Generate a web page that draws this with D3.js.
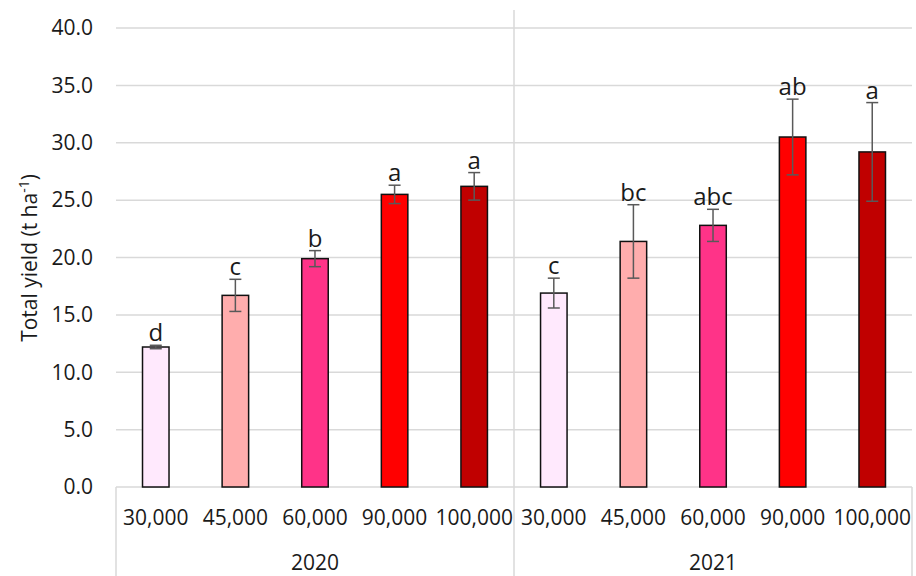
<!DOCTYPE html>
<html>
<head>
<meta charset="utf-8">
<title>Total yield</title>
<script src="https://cdn.jsdelivr.net/npm/d3@7"></script>
<style>
  body { margin: 0; background: #fff; }
  text { font-family: "Open Sans", "Noto Sans", sans-serif; fill: #1a1a1a; }
</style>
</head>
<body>
<svg id="chart" width="916" height="576"></svg>
<script>
// data
var years = ["2020", "2021"];
var densities = ["30,000", "45,000", "60,000", "90,000", "100,000"];
var yield2020 = [12.2, 16.7, 19.9, 25.5, 26.2];
var yield2021 = [16.9, 21.4, 22.8, 30.5, 29.2];
var err2020 = [0.15, 1.4, 0.7, 0.8, 1.2];
var err2021 = [1.3, 3.2, 1.4, 3.3, 4.3];
var letters2020 = ["d", "c", "b", "a", "a"];
var letters2021 = ["c", "bc", "abc", "ab", "a"];
var yTicks = [0, 5, 10, 15, 20, 25, 30, 35, 40];
var barColors = ["#ffe9fd", "#ffadad", "#ff3388", "#ff0000", "#c00000"];

var rows = [];
years.forEach(function(yr, j){
  var vals = j === 0 ? yield2020 : yield2021;
  var errs = j === 0 ? err2020 : err2021;
  var lets = j === 0 ? letters2020 : letters2021;
  densities.forEach(function(d, i){
    rows.push({key: yr + "_" + d, year: yr, dens: d, i: i, v: vals[i], e: errs[i], lab: lets[i]});
  });
});

var svg = d3.select("#chart");
var pLeft = 116, pRight = 912, pTop = 28, pBottom = 487;

var x = d3.scaleBand().domain(rows.map(function(d){ return d.key; }))
  .range([pLeft, pRight]).paddingInner(0.667).paddingOuter(0.333);
var y = d3.scaleLinear().domain([0, 40]).range([pBottom, pTop]);

// gridlines
svg.append("g").selectAll("line").data(yTicks).enter().append("line")
  .attr("x1", pLeft).attr("x2", pRight)
  .attr("y1", function(d){ return y(d); }).attr("y2", function(d){ return y(d); })
  .attr("stroke", "#d9d9d9").attr("stroke-width", 1.5);

// y tick labels
svg.append("g").selectAll("text").data(yTicks).enter().append("text")
  .attr("x", 93).attr("y", function(d){ return y(d); })
  .attr("dy", "0.35em").attr("text-anchor", "end")
  .style("font-size", "21px")
  .text(function(d){ return d3.format(".1f")(d); });

// y title
svg.append("text")
  .attr("transform", "translate(37,258) rotate(-90)")
  .attr("text-anchor", "middle")
  .style("font-size", "21px")
  .html('Total yield (t ha<tspan dy="-8" style="font-size:14px">-1</tspan><tspan dy="8">)</tspan>');

// category axis frame
var groupEdges = [pLeft, (pLeft + pRight) / 2, pRight];
svg.append("g").selectAll("line").data(groupEdges).enter().append("line")
  .attr("x1", function(d){ return d; }).attr("x2", function(d){ return d; })
  .attr("y1", function(d, i){ return i === 1 ? 10 : pBottom; }).attr("y2", 576)
  .attr("stroke", "#d9d9d9").attr("stroke-width", 1.5);

// bars
svg.append("g").selectAll("rect").data(rows).enter().append("rect")
  .attr("x", function(d){ return x(d.key); })
  .attr("width", x.bandwidth())
  .attr("y", function(d){ return y(d.v); })
  .attr("height", function(d){ return y(0) - y(d.v); })
  .attr("fill", function(d){ return barColors[d.i]; })
  .attr("stroke", "#111").attr("stroke-width", 1.5);

// error bars
var eb = svg.append("g").attr("stroke", "#595959").attr("stroke-width", 1.5);
rows.forEach(function(d){
  var cx = x(d.key) + x.bandwidth() / 2;
  eb.append("line").attr("x1", cx).attr("x2", cx).attr("y1", y(d.v - d.e)).attr("y2", y(d.v + d.e));
  [d.v - d.e, d.v + d.e].forEach(function(t){
    eb.append("line").attr("x1", cx - 6).attr("x2", cx + 6).attr("y1", y(t)).attr("y2", y(t));
  });
});

// significance letters
svg.append("g").selectAll("text").data(rows).enter().append("text")
  .attr("x", function(d){ return x(d.key) + x.bandwidth() / 2; })
  .attr("y", function(d){ return y(d.v + d.e) - 4; })
  .attr("text-anchor", "middle")
  .style("font-size", "24px")
  .text(function(d){ return d.lab; });

// category labels
svg.append("g").selectAll("text").data(rows).enter().append("text")
  .attr("x", function(d){ return x(d.key) + x.bandwidth() / 2; })
  .attr("y", 525).attr("text-anchor", "middle")
  .style("font-size", "21px")
  .text(function(d){ return d.dens; });

svg.append("g").selectAll("text").data(years).enter().append("text")
  .attr("x", function(d, i){ return (groupEdges[i] + groupEdges[i + 1]) / 2; })
  .attr("y", 570).attr("text-anchor", "middle")
  .style("font-size", "21px")
  .text(function(d){ return d; });
</script>
</body>
</html>
